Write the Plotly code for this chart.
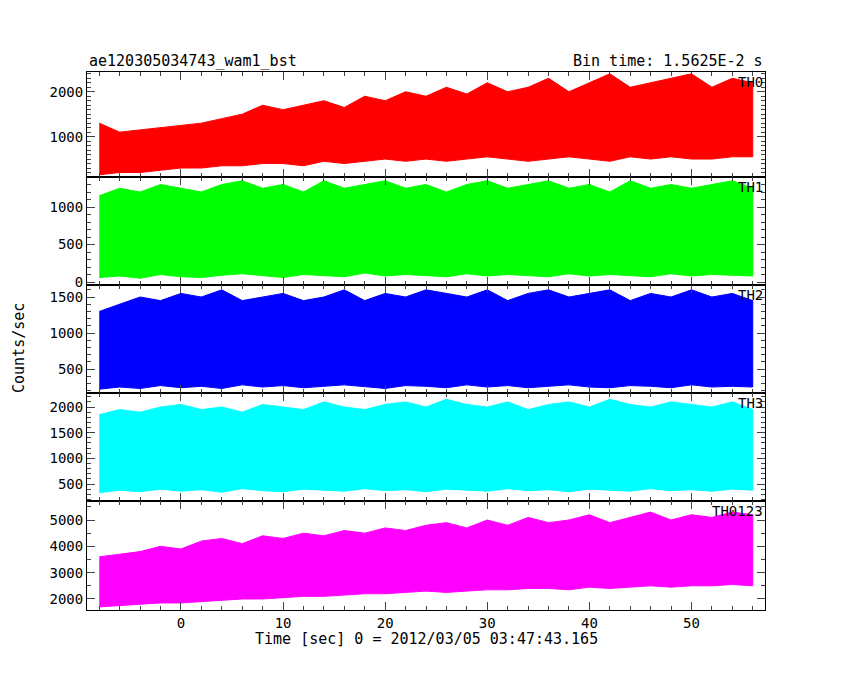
import plotly.graph_objects as go

# envelope of each light curve, read every 2 s (counts/sec)
times = [-8, -6, -4, -2, 0, 2, 4, 6, 8, 10, 12, 14, 16, 18, 20, 22, 24,
         26, 28, 30, 32, 34, 36, 38, 40, 42, 44, 46, 48, 50, 52, 54, 56]

th0_hi = [1300, 1100, 1150, 1200, 1250, 1300, 1400, 1500, 1700, 1600, 1700,
          1800, 1650, 1900, 1800, 2000, 1900, 2100, 1950, 2200, 2000, 2100,
          2300, 2000, 2200, 2400, 2100, 2200, 2300, 2400, 2100, 2300, 2200]
th0_lo = [150, 200, 200, 250, 300, 300, 350, 350, 400, 400, 350, 450, 400,
          450, 500, 450, 500, 450, 500, 550, 500, 450, 500, 550, 500, 450,
          550, 500, 550, 500, 500, 550, 550]
th1_hi = [1150, 1250, 1200, 1300, 1250, 1200, 1300, 1350, 1250, 1300, 1200,
          1350, 1250, 1300, 1350, 1250, 1300, 1200, 1300, 1350, 1250, 1300,
          1350, 1250, 1300, 1200, 1350, 1250, 1300, 1250, 1300, 1350, 1250]
th1_lo = [60, 80, 50, 100, 70, 60, 90, 110, 80, 60, 100, 90, 70, 120, 80,
          100, 90, 70, 110, 80, 100, 90, 70, 110, 80, 100, 90, 70, 110, 80,
          100, 90, 80]
th2_hi = [1300, 1400, 1500, 1450, 1550, 1500, 1600, 1450, 1500, 1550, 1450,
          1500, 1600, 1450, 1550, 1500, 1600, 1550, 1500, 1600, 1450, 1550,
          1600, 1500, 1550, 1600, 1450, 1550, 1500, 1600, 1500, 1550, 1450]
th2_lo = [220, 250, 230, 270, 240, 260, 230, 280, 250, 270, 240, 260, 280,
          250, 230, 270, 260, 240, 280, 250, 270, 240, 260, 280, 250, 240,
          270, 260, 240, 280, 250, 260, 250]
th3_hi = [1850, 1950, 1900, 2000, 2050, 1950, 2000, 1900, 2050, 2000, 1950,
          2100, 2000, 1950, 2050, 2100, 2000, 2150, 2050, 2000, 2100, 1950,
          2050, 2100, 2000, 2150, 2050, 2000, 2100, 2050, 2000, 2100, 1950]
th3_lo = [330, 380, 350, 400, 360, 390, 340, 410, 370, 350, 400, 380, 360,
          410, 370, 390, 350, 400, 380, 360, 410, 370, 390, 350, 400, 380,
          360, 410, 370, 390, 360, 400, 380]
tot_hi = [3600, 3700, 3800, 4000, 3900, 4200, 4300, 4100, 4400, 4300, 4500,
          4400, 4600, 4500, 4700, 4600, 4800, 4900, 4700, 5000, 4800, 5100,
          4900, 5000, 5200, 4900, 5100, 5300, 5000, 5200, 5100, 5300, 5200]
tot_lo = [1700, 1750, 1800, 1850, 1850, 1900, 1950, 2000, 2000, 2050, 2100,
          2100, 2150, 2200, 2200, 2250, 2300, 2250, 2300, 2350, 2350, 2400,
          2400, 2350, 2450, 2400, 2450, 2500, 2450, 2500, 2500, 2550, 2500]

panels = [
    ("TH0", th0_hi, th0_lo, "#ff0000", [100, 2440], [1000, 2000]),
    ("TH1", th1_hi, th1_lo, "#00ff00", [-40, 1400], [0, 500, 1000]),
    ("TH2", th2_hi, th2_lo, "#0000ff", [167, 1667], [500, 1000, 1500]),
    ("TH3", th3_hi, th3_lo, "#00ffff", [169, 2273], [500, 1000, 1500, 2000]),
    ("TH0123", tot_hi, tot_lo, "#ff00ff", [1582, 5722], [2000, 3000, 4000, 5000]),
]
OFF = 8  # page body margin
edges = [e - OFF for e in [72, 177, 285, 393, 501, 610]]
XL, XR = 87 - OFF, 765 - OFF
H, W = 680, 850
FONT = "DejaVu Sans Mono"

fig = go.Figure()
layout = {}
for n, (name, hi, lo, color, yr, ticks) in enumerate(panels):
    ax = "" if n == 0 else str(n + 1)
    fig.add_trace(go.Scatter(x=times + times[::-1], y=hi + lo[::-1], fill="toself",
                             fillcolor=color, line=dict(color=color, width=1),
                             mode="lines", xaxis="x" + ax, yaxis="y" + ax,
                             showlegend=False, hoverinfo="skip"))
    layout["yaxis" + ax] = dict(
        domain=[1 - edges[n + 1] / H, 1 - edges[n] / H], range=yr,
        tickvals=ticks, ticks="inside", ticklen=8, mirror="ticks",
        showline=True, linecolor="black", linewidth=1, showgrid=False,
        zeroline=False, anchor="x" + ax, automargin=False,
        minor=dict(ticks="inside", ticklen=4, dtick=100 if yr[1] < 3000 else 500))
    layout["xaxis" + ax] = dict(
        domain=[XL / W, XR / W], range=[-9.2, 57.2], dtick=10,
        ticks="inside", ticklen=8, mirror="ticks", showline=True,
        linecolor="black", linewidth=1, showgrid=False, zeroline=False,
        showticklabels=(n == 4), anchor="y" + ax, automargin=False,
        matches=None if n == 0 else "x",
        minor=dict(ticks="inside", ticklen=4, dtick=2))
    fig.add_annotation(text=name, xref="x" + ax + " domain", yref="y" + ax + " domain",
                       x=1, y=1, xanchor="right", yanchor="top", showarrow=False,
                       font=dict(size=14, color="black"))

fig.add_annotation(text="ae120305034743_wam1_bst", xref="paper", yref="paper",
                   x=XL / W, y=1 - edges[0] / H, xanchor="left", yanchor="bottom",
                   showarrow=False, font=dict(size=15))
fig.add_annotation(text="Bin time: 1.5625E-2 s", xref="paper", yref="paper",
                   x=XR / W, y=1 - edges[0] / H, xanchor="right", yanchor="bottom",
                   showarrow=False, font=dict(size=15))
fig.add_annotation(text="Counts/sec", xref="paper", yref="paper", x=0, y=0.5,
                   textangle=-90, showarrow=False, font=dict(size=15))
fig.add_annotation(text="Time [sec] 0 = 2012/03/05 03:47:43.165", xref="paper",
                   yref="paper", x=(XL + XR) / 2 / W, y=1 - (650 - OFF) / H,
                   showarrow=False, font=dict(size=15))

fig.update_layout(width=W, height=H, plot_bgcolor="white", paper_bgcolor="white",
                  margin=dict(l=0, r=0, t=0, b=0),
                  font=dict(family=FONT, size=14, color="black"), **layout)
fig.write_html("out.html")
